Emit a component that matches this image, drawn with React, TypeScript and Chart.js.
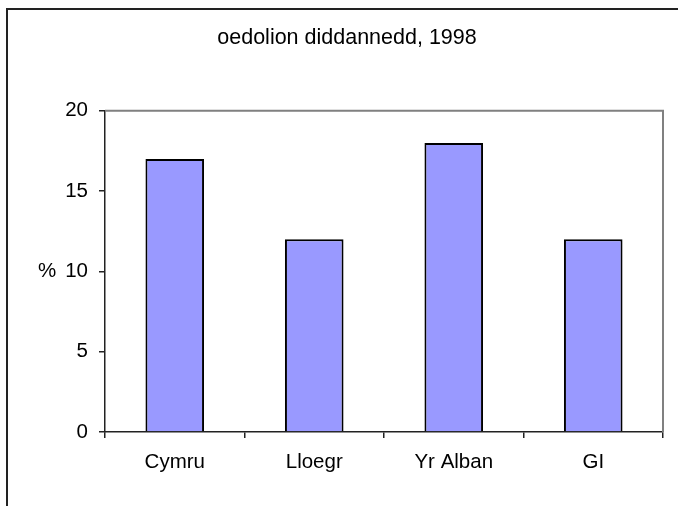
import React, { useEffect, useRef } from "react";
import { Chart, registerables } from "chart.js";

Chart.register(...registerables);

const categories: string[] = ["Cymru", "Lloegr", "Yr Alban", "GI"];
const values: number[] = [17, 12, 18, 12];
const yTicks: number[] = [0, 5, 10, 15, 20];
const titleText = "oedolion diddannedd, 1998";
const yAxisLabel = "%";

const FONT = "'Liberation Sans', Arial, sans-serif";

const framePlugin = {
  id: "framePlugin",
  afterDraw(chart: any) {
    const ctx = chart.ctx;
    const area = chart.chartArea;
    ctx.save();
    // plot area border (top and right), grey
    ctx.strokeStyle = "#808080";
    ctx.lineWidth = 2;
    ctx.beginPath();
    ctx.moveTo(area.left, area.top);
    ctx.lineTo(area.right, area.top);
    ctx.lineTo(area.right, area.bottom);
    ctx.stroke();
    // outer chart border
    ctx.strokeStyle = "#222";
    ctx.lineWidth = 2;
    ctx.beginPath();
    ctx.moveTo(7, chart.height);
    ctx.lineTo(7, 9);
    ctx.lineTo(chart.width, 9);
    ctx.stroke();
    // % label
    const y = chart.scales.y.getPixelForValue(10);
    ctx.fillStyle = "#000";
    ctx.font = `20.5px ${FONT}`;
    ctx.textAlign = "left";
    ctx.textBaseline = "middle";
    ctx.fillText(yAxisLabel, 38, y);
    ctx.restore();
  },
};

export default function App() {
  const canvasRef = useRef<HTMLCanvasElement | null>(null);

  useEffect(() => {
    if (!canvasRef.current) return;
    const chart = new Chart(canvasRef.current, {
      type: "bar",
      data: {
        labels: categories,
        datasets: [
          {
            data: values,
            backgroundColor: "#9999FF",
            borderColor: "#000000",
            borderWidth: 2,
            barPercentage: 0.42,
            categoryPercentage: 1,
          },
        ],
      },
      plugins: [framePlugin],
      options: {
        responsive: false,
        animation: false,
        layout: { padding: { top: 0, right: 15, bottom: 0, left: 31 } },
        plugins: {
          legend: { display: false },
          tooltip: { enabled: false },
          title: {
            display: true,
            text: titleText,
            color: "#000",
            font: { family: FONT, size: 21.5, weight: "normal" },
            padding: { top: 25, bottom: 60 },
          },
        },
        scales: {
          x: {
            grid: {
              display: true,
              offset: true,
              drawOnChartArea: false,
              drawTicks: true,
              tickLength: 6,
              color: "#222",
              lineWidth: 1.5,
            },
            border: { display: true, color: "#222", width: 1.5 },
            ticks: {
              color: "#000",
              font: { family: FONT, size: 20.5 },
              padding: 12,
              maxRotation: 0,
            },
            afterFit(scale: any) {
              scale.height = 74;
            },
          },
          y: {
            min: 0,
            max: 20,
            afterBuildTicks(scale: any) {
              scale.ticks = yTicks.map((v) => ({ value: v }));
            },
            grid: {
              display: true,
              drawOnChartArea: false,
              drawTicks: true,
              tickLength: 6,
              color: "#222",
              lineWidth: 1.5,
            },
            border: { display: true, color: "#222", width: 1.5 },
            ticks: {
              color: "#000",
              font: { family: FONT, size: 20.5 },
              padding: 11,
            },
            afterFit(scale: any) {
              scale.width = 74;
            },
          },
        },
      },
    });
    return () => chart.destroy();
  }, []);

  return (
    <div style={{ position: "fixed", left: 0, top: 0, width: 678, height: 506, background: "#fff" }}>
      <canvas ref={canvasRef} width={678} height={506} style={{ display: "block" }} />
    </div>
  );
}
